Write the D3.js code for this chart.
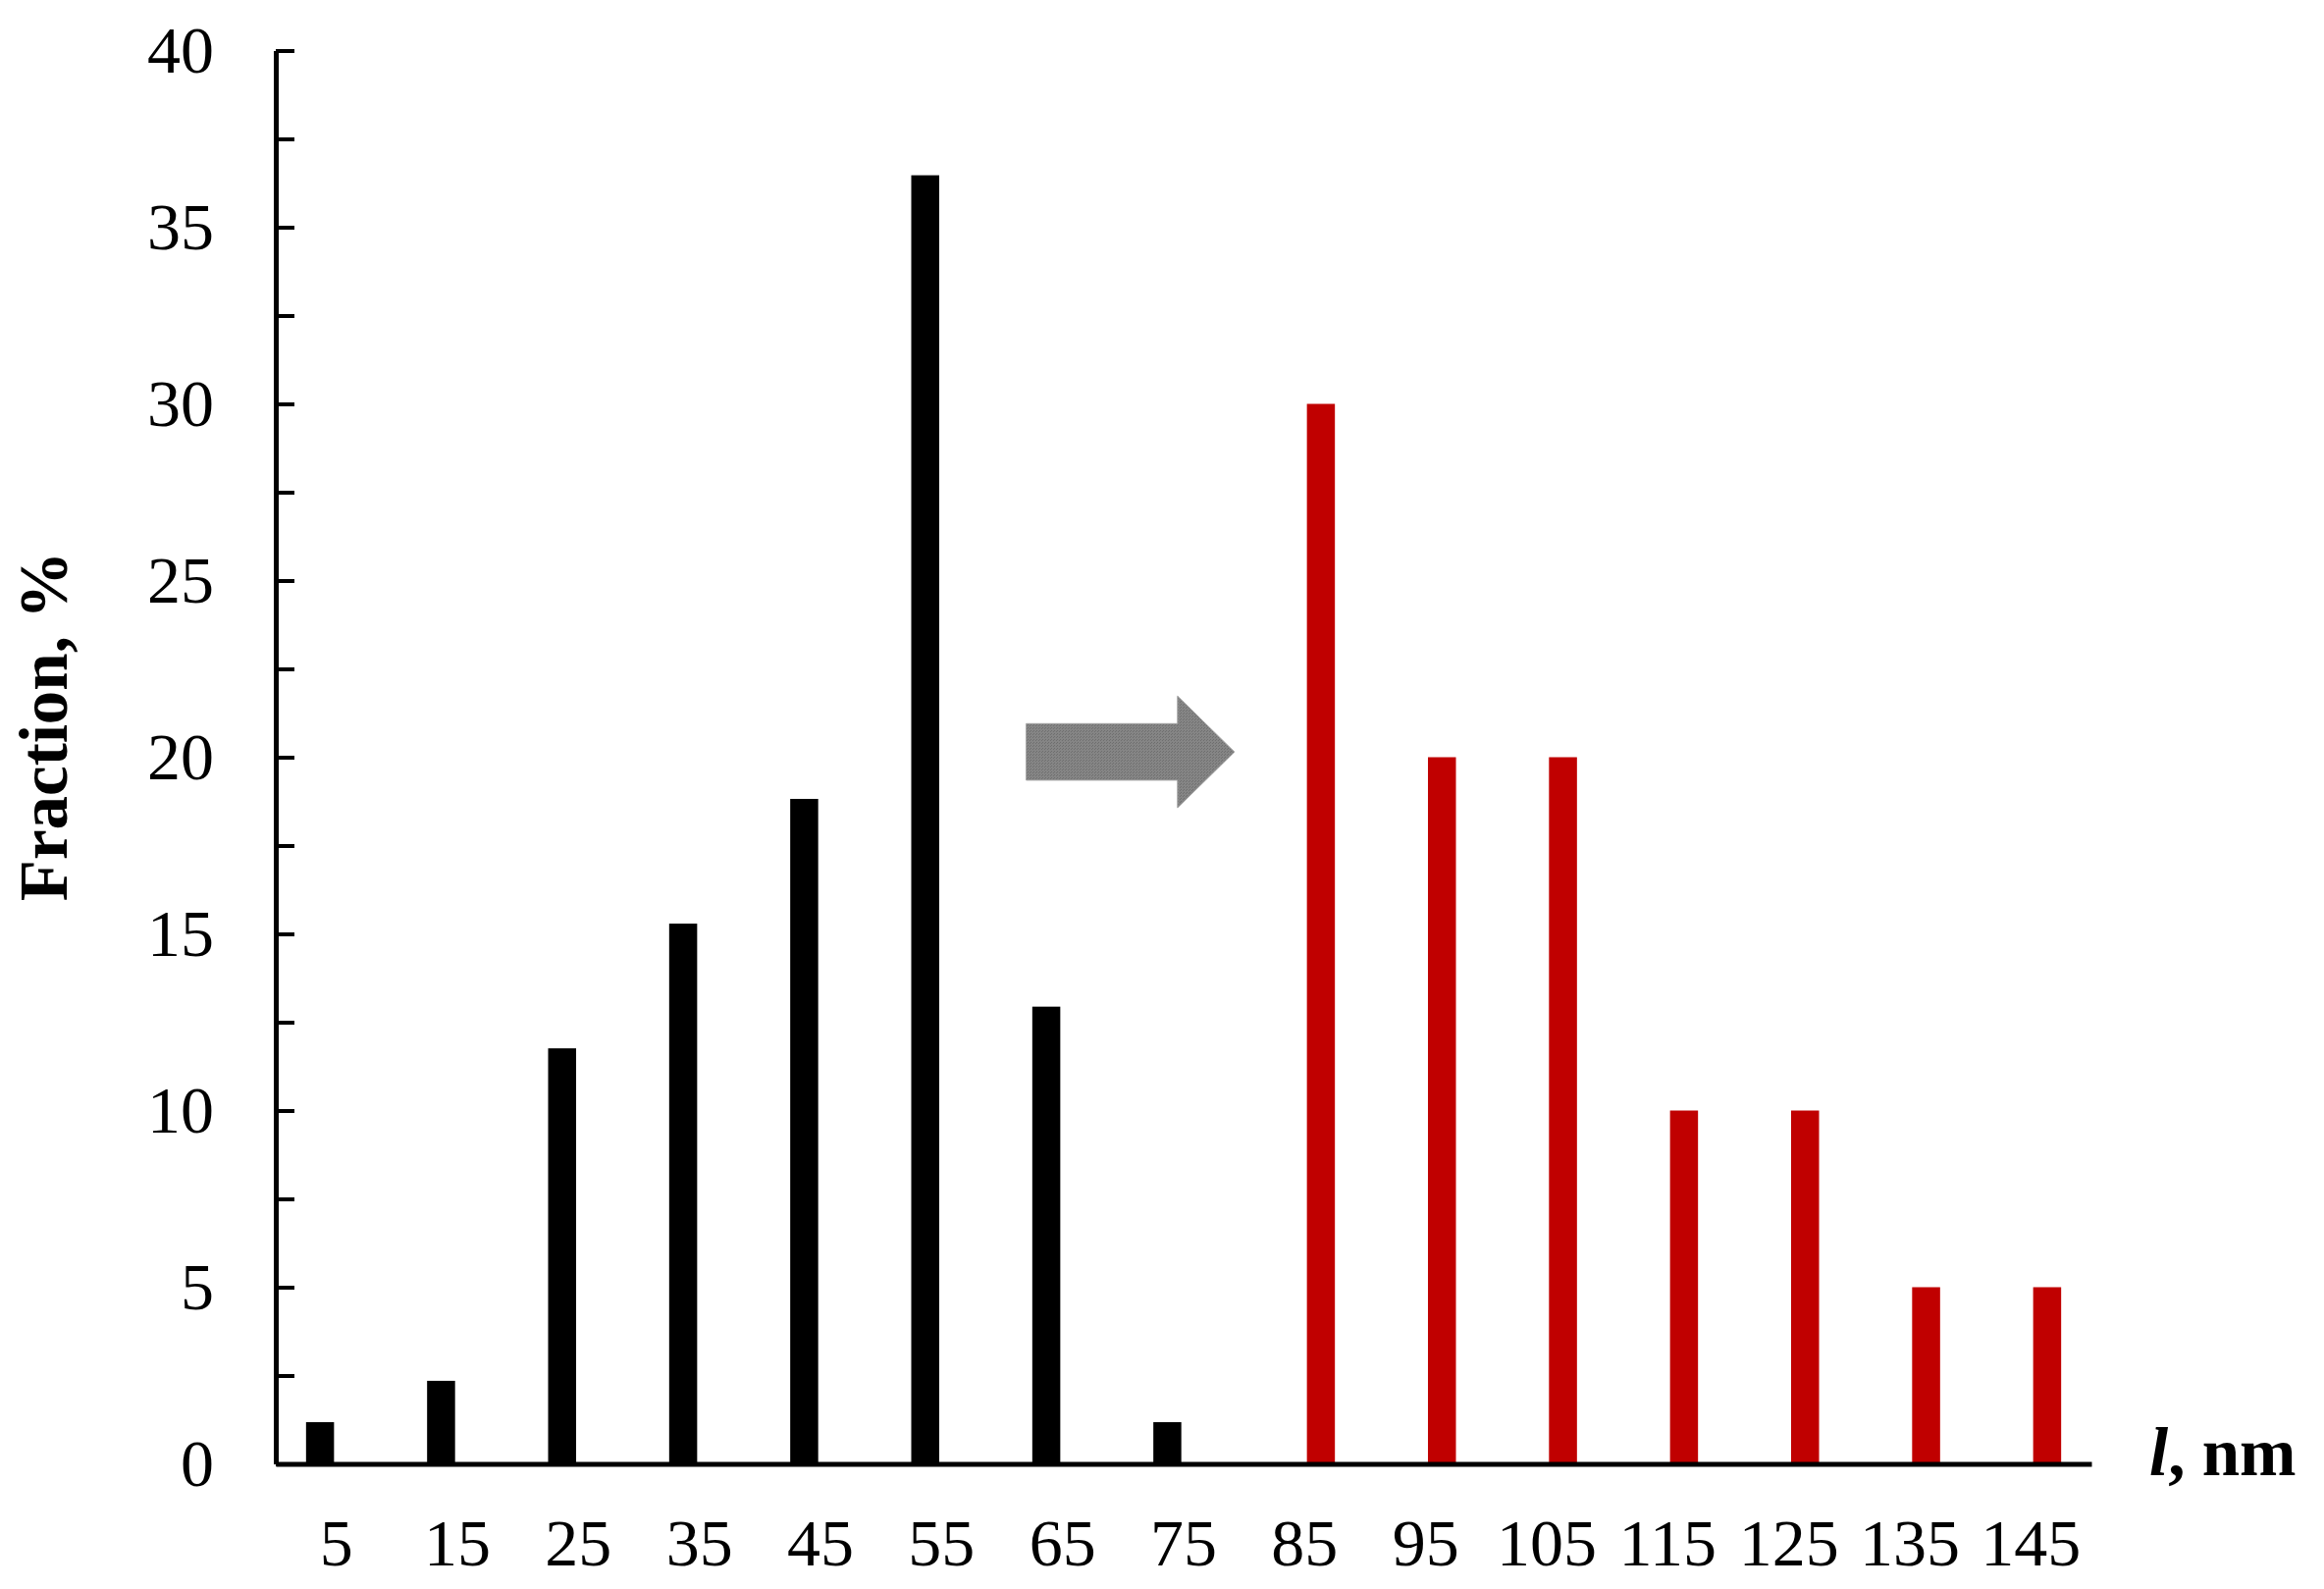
<!DOCTYPE html>
<html>
<head>
<meta charset="utf-8">
<script src="https://cdn.jsdelivr.net/npm/d3@7"></script>
<style>
  body { margin: 0; background: #fff; }
  text { font-family: "Liberation Serif", "Times New Roman", serif; }
</style>
</head>
<body>
<svg id="chart"></svg>
<script>
var width = 2368;
var height = 1619;

// size classes, nm
var categories = ["5", "15", "25", "35", "45", "55", "65", "75", "85", "95", "105", "115", "125", "135", "145"];
// first distribution (black), % per class
var blackValues = [1.18, 2.35, 11.76, 15.29, 18.82, 36.47, 12.94, 1.18, 0, 0, 0, 0, 0, 0, 0];
// second distribution (red), % per class
var redValues = [0, 0, 0, 0, 0, 0, 0, 0, 30, 20, 20, 10, 10, 5, 5];
var seriesNames = ["black", "red"];
var seriesColors = ["#000000", "#c00000"];
var yMajorTicks = [0, 5, 10, 15, 20, 25, 30, 35, 40];
var yMinorTicks = d3.range(0, 40.01, 2.5);
// arrow annotation in data units (nm, %)
var arrowX = [62, 74.5, 79.2];
var arrowY = [20.15, 0.8, 1.58]; // centre, half body, half head

var plotLeft = 281, plotRight = 2131, plotTop = 51.5, plotBottom = 1491.5;

var svg = d3.select("#chart")
    .attr("width", width)
    .attr("height", height);

var x0 = d3.scaleBand().domain(categories).range([plotLeft, plotRight]).padding(0);
var x1 = d3.scaleBand().domain(seriesNames)
    .range([x0.bandwidth() * 0.25, x0.bandwidth() * 0.75])
    .paddingInner(0.14);
var xLin = d3.scaleLinear().domain([0, 150]).range([plotLeft, plotRight]);
var y = d3.scaleLinear().domain([0, 40]).range([plotBottom, plotTop]);

var table = categories.map(function(c, i) {
  return { cat: c, values: [blackValues[i], redValues[i]] };
});

// bars
var groups = svg.append("g").attr("class", "bars")
  .selectAll("g")
  .data(table)
  .enter().append("g")
    .attr("transform", function(d) { return "translate(" + x0(d.cat) + ",0)"; });

groups.selectAll("rect")
  .data(function(d) {
    return d.values.map(function(v, j) { return { s: seriesNames[j], v: v, c: seriesColors[j] }; })
      .filter(function(e) { return e.v > 0; });
  })
  .enter().append("rect")
    .attr("x", function(d) { return x1(d.s); })
    .attr("width", x1.bandwidth())
    .attr("y", function(d) { return y(d.v); })
    .attr("height", function(d) { return y(0) - y(d.v); })
    .attr("fill", function(d) { return d.c; });

// arrow
var defs = svg.append("defs");
var pat = defs.append("pattern")
    .attr("id", "dots")
    .attr("width", 3).attr("height", 3)
    .attr("patternUnits", "userSpaceOnUse");
pat.append("rect").attr("width", 3).attr("height", 3).attr("fill", "#858585");
pat.append("rect").attr("width", 1).attr("height", 1).attr("fill", "#6e6e6e");
pat.append("rect").attr("x", 2).attr("y", 1).attr("width", 1).attr("height", 1).attr("fill", "#707070");

var arrowPts = [
  [arrowX[0], arrowY[0] + arrowY[1]],
  [arrowX[1], arrowY[0] + arrowY[1]],
  [arrowX[1], arrowY[0] + arrowY[2]],
  [arrowX[2], arrowY[0]],
  [arrowX[1], arrowY[0] - arrowY[2]],
  [arrowX[1], arrowY[0] - arrowY[1]],
  [arrowX[0], arrowY[0] - arrowY[1]]
];
svg.append("path")
    .attr("d", d3.line().x(function(d) { return xLin(d[0]); }).y(function(d) { return y(d[1]); })(arrowPts) + "Z")
    .attr("fill", "url(#dots)")
    .attr("stroke", "#a0a0a0")
    .attr("stroke-width", 1);

// y axis: ticks pointing inward
var yTicks = svg.append("g")
    .attr("transform", "translate(" + plotLeft + ",0)")
    .call(d3.axisRight(y).tickValues(yMinorTicks).tickSize(19).tickSizeOuter(0).tickFormat(""));
yTicks.select(".domain").attr("stroke-width", 5);
yTicks.selectAll(".tick line").attr("stroke-width", 4);

// y tick labels
var yLabels = svg.append("g")
    .attr("transform", "translate(" + plotLeft + ",0)")
    .call(d3.axisLeft(y).tickValues(yMajorTicks).tickSize(0).tickPadding(63));
yLabels.select(".domain").remove();
yLabels.selectAll("text")
    .attr("font-size", 68)
    .attr("fill", "#000")
    .style("font-family", '"Liberation Serif", "Times New Roman", serif');

// x axis
var xAxis = svg.append("g")
    .attr("transform", "translate(0," + plotBottom + ")")
    .call(d3.axisBottom(x0).tickSize(0).tickSizeOuter(0).tickPadding(55));
xAxis.select(".domain").attr("stroke-width", 5);
xAxis.selectAll("text")
    .attr("font-size", 68)
    .attr("fill", "#000")
    .style("font-family", '"Liberation Serif", "Times New Roman", serif');

// axis titles
svg.append("text")
    .attr("transform", "translate(68,740) rotate(-90)")
    .attr("text-anchor", "middle")
    .attr("font-size", 69)
    .attr("font-weight", "bold")
    .text("Fraction, %");

var xt = svg.append("text")
    .attr("x", 2190)
    .attr("y", 1503)
    .attr("font-size", 69)
    .attr("font-weight", "bold");
xt.append("tspan").attr("font-style", "italic").text("l");
xt.append("tspan").text(", nm");
</script>
</body>
</html>
